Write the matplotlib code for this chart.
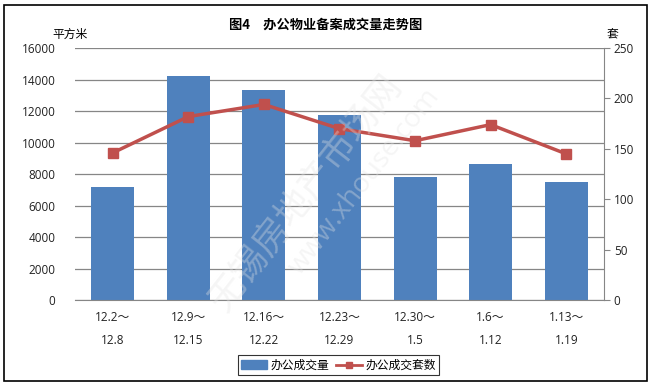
import numpy as np
import matplotlib.pyplot as plt
from matplotlib.lines import Line2D
from matplotlib.patches import Patch

plt.rcParams['font.family'] = ['Open Sans', 'Noto Sans CJK SC', 'DejaVu Sans']

# data
weeks = ['12.2～\n12.8', '12.9～\n12.15', '12.16～\n12.22', '12.23～\n12.29',
         '12.30～\n1.5', '1.6～\n1.12', '1.13～\n1.19']
area = [7150, 14250, 13350, 11750, 7800, 8650, 7500]
units = [146, 182, 194, 170, 158, 174, 145]
left_ticks = [0, 2000, 4000, 6000, 8000, 10000, 12000, 14000, 16000]
right_ticks = [0, 50, 100, 150, 200, 250]

bar_color = '#4F81BD'
line_color = '#C0504D'
grid_color = '#868686'
cjk = ['Noto Sans CJK SC', 'DejaVu Sans']

fig = plt.figure(figsize=(6.51, 3.86), dpi=100)
ax = fig.add_axes([0.1152, 0.2228, 0.8126, 0.6528])
x = np.arange(len(weeks))

ax.bar(x, area, width=0.57, color=bar_color, zorder=2)
ax.set_ylim(0, 16000)
ax.set_xlim(-0.5, len(weeks) - 0.5)
ax.set_yticks(left_ticks)
ax.yaxis.grid(True, color=grid_color, linewidth=0.9, zorder=0)
ax.set_axisbelow(True)
for s in ['top', 'left', 'right']:
    ax.spines[s].set_visible(False)
ax.spines['bottom'].set_color(grid_color)
ax.tick_params(axis='y', length=0, pad=14, labelsize=8.5, colors='#222222')
ax.tick_params(axis='x', length=0, pad=8, labelsize=8.5, colors='#222222')
ax.set_xticks(x)
ax.set_xticklabels(weeks, linespacing=2.0)

ax2 = ax.twinx()
ax2.plot(x, units, color=line_color, linewidth=2.5, marker='s', markersize=7, zorder=3)
ax2.set_ylim(0, 250)
ax2.set_yticks(right_ticks)
for s in ['top', 'left', 'bottom']:
    ax2.spines[s].set_visible(False)
ax2.spines['right'].set_color(grid_color)
ax2.tick_params(axis='y', direction='out', length=4, color=grid_color, pad=3,
                labelsize=8.5, colors='#222222')

fig.text(0.5, 0.935, '图4　办公物业备案成交量走势图', ha='center', va='center',
         fontsize=9.5, fontweight='bold', family=cjk)
fig.text(0.08, 0.893, '平方米', ha='left', va='bottom', fontsize=8.5, family=cjk)
fig.text(0.932, 0.893, '套', ha='left', va='bottom', fontsize=8.5, family=cjk)

# faint watermark
fig.text(0.47, 0.5, '无锡房地产市场网', rotation=52, fontsize=26, color='#e4e4e4',
         ha='center', va='center', family=cjk, alpha=0.35, zorder=10)
fig.text(0.56, 0.53, 'www.xhouse.com', rotation=52, fontsize=20, color='#e4e4e4',
         ha='center', va='center', alpha=0.35, zorder=10)

handles = [Patch(color=bar_color),
           Line2D([0], [0], color=line_color, linewidth=2, marker='s', markersize=5)]
leg = fig.legend(handles, ['办公成交量', '办公成交套数'], loc='center',
                 bbox_to_anchor=(0.52, 0.054), ncol=2, frameon=True, fancybox=False,
                 prop={'family': cjk, 'size': 8.5}, handlelength=2.2,
                 handletextpad=0.3, columnspacing=0.5, borderpad=0.3)
leg.get_frame().set_edgecolor('#000000')
leg.get_frame().set_linewidth(0.8)

border = plt.Rectangle((0.006, 0.012), 0.988, 0.976, transform=fig.transFigure,
                       fill=False, edgecolor='black', linewidth=1.2)
fig.patches.append(border)

fig.savefig('out.png', dpi=100)
